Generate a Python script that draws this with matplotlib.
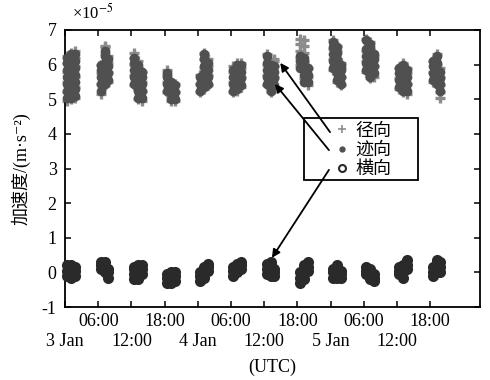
import matplotlib
matplotlib.use('Agg')
import matplotlib.pyplot as plt
from matplotlib.lines import Line2D
from matplotlib.patches import Rectangle

plt.rcParams['font.family'] = ['Liberation Serif', 'Noto Sans CJK SC', 'DejaVu Sans']
plt.rcParams['mathtext.fontset'] = 'stix'
plt.rcParams['axes.unicode_minus'] = False

# ---------------- data (units of 1e-5 m/s^2) ----------------
# start hour (from 3 Jan 00:00 UTC) of each observation arc
cluster_start_h = [0, 6, 12, 18, 24, 30, 36, 42, 48, 54, 60, 66]
# time offsets (h) of the three sample columns inside one arc
col_offsets_h = [0.45, 1.15, 1.85]

# radial (径向) values per arc, per column
radial = [
    [[4.95, 5.2, 5.5, 5.8, 6.05, 6.25], [5.0, 5.3, 5.6, 5.9, 6.15, 6.35], [5.05, 5.35, 5.65, 5.95, 6.2, 6.4]],
    [[5.15, 5.45, 5.75, 6.0], [5.4, 5.7, 6.0, 6.3, 6.5, 6.55], [5.5, 5.8, 6.05, 6.25]],
    [[5.4, 5.7, 6.0, 6.2, 6.35], [5.0, 5.3, 5.6, 5.9, 6.1], [4.95, 5.25, 5.5, 5.8]],
    [[5.2, 5.5, 5.7, 5.85], [4.95, 5.2, 5.45], [4.95, 5.2, 5.45]],
    [[5.2, 5.45, 5.7], [5.3, 5.6, 5.9, 6.15, 6.35], [5.4, 5.7, 5.95, 6.15]],
    [[5.2, 5.5, 5.8, 5.95], [5.25, 5.55, 5.85, 6.05], [5.35, 5.65, 5.9, 6.05]],
    [[5.4, 5.7, 6.0, 6.3], [5.2, 5.5, 5.8, 6.05], [5.35, 5.65, 5.95, 6.1, 6.15]],
    [[6.0, 6.2, 6.4, 6.6, 6.75], [5.6, 5.85, 6.1, 6.35, 6.55, 6.7], [5.4, 5.65, 5.9]],
    [[5.85, 6.15, 6.45, 6.7], [5.5, 5.8, 6.1, 6.4, 6.55], [5.4, 5.65, 5.9, 6.05]],
    [[5.8, 6.1, 6.4, 6.75], [5.6, 5.9, 6.2, 6.5, 6.65], [5.65, 5.95, 6.25]],
    [[5.3, 5.6, 5.9], [5.2, 5.5, 5.8, 6.05], [5.15, 5.45, 5.75, 5.9]],
    [[5.5, 5.8, 6.1], [5.4, 5.7, 6.0, 6.3], [5.05, 5.2, 5.4, 5.65, 5.9]],
]

# along-track (迹向) values per arc, per column
along = [
    [[5.05, 5.25, 5.45, 5.65, 5.85, 6.05, 6.2], [5.05, 5.25, 5.45, 5.7, 5.9, 6.1, 6.3], [5.1, 5.3, 5.5, 5.7, 5.9, 6.1, 6.3]],
    [[5.25, 5.45, 5.65, 5.85, 6.0], [5.45, 5.65, 5.85, 6.05, 6.25, 6.4], [5.55, 5.75, 5.95, 6.15]],
    [[5.45, 5.65, 5.85, 6.05, 6.2], [5.05, 5.25, 5.45, 5.65, 5.85, 6.0], [5.05, 5.25, 5.45, 5.65, 5.8]],
    [[5.25, 5.45, 5.65, 5.75], [5.0, 5.2, 5.4, 5.5], [5.0, 5.2, 5.4]],
    [[5.25, 5.45, 5.65], [5.35, 5.55, 5.75, 5.95, 6.15, 6.3], [5.45, 5.65, 5.85, 6.05]],
    [[5.25, 5.45, 5.65, 5.85], [5.3, 5.5, 5.7, 5.9, 6.0], [5.4, 5.6, 5.8, 6.0]],
    [[5.45, 5.65, 5.85, 6.05, 6.25], [5.25, 5.45, 5.65, 5.85, 6.0], [5.4, 5.6, 5.8, 5.95]],
    [[5.9, 6.1, 6.25], [5.5, 5.7, 5.9, 6.1, 6.2], [5.5, 5.7, 5.9]],
    [[5.9, 6.1, 6.3, 6.5, 6.65], [5.55, 5.75, 5.95, 6.15, 6.35, 6.5], [5.45, 5.65, 5.85, 6.0]],
    [[5.85, 6.05, 6.25, 6.45, 6.7], [5.65, 5.85, 6.05, 6.25, 6.45, 6.6], [5.75, 5.95, 6.15, 6.3]],
    [[5.35, 5.55, 5.75, 5.9], [5.25, 5.45, 5.65, 5.85, 6.0], [5.25, 5.45, 5.65, 5.85]],
    [[5.55, 5.75, 5.95, 6.1], [5.45, 5.65, 5.85, 6.05, 6.25], [5.25, 5.45, 5.6, 5.8]],
]

# cross-track (横向) values per arc, per column
cross = [
    [[-0.1, 0.05, 0.2], [-0.15, 0.0, 0.15, 0.2], [-0.1, 0.05, 0.15]],
    [[0.1, 0.2, 0.3], [0.0, 0.15, 0.3], [-0.15, 0.0, 0.1]],
    [[-0.2, -0.05, 0.1, 0.15], [-0.2, -0.05, 0.1, 0.2], [-0.05, 0.1, 0.2]],
    [[-0.3, -0.15, -0.05], [-0.3, -0.15, 0.0], [-0.25, -0.1, 0.0]],
    [[-0.25, -0.1, 0.0], [-0.15, 0.0, 0.15], [0.05, 0.15, 0.25]],
    [[-0.1, 0.05, 0.15], [0.0, 0.15, 0.25], [0.1, 0.2, 0.3]],
    [[-0.05, 0.1, 0.25], [-0.1, 0.05, 0.2, 0.3], [-0.1, 0.0, 0.1]],
    [[-0.3, -0.15, 0.0], [-0.2, -0.05, 0.1, 0.2], [0.05, 0.15, 0.3]],
    [[-0.15, 0.0, 0.1], [-0.15, 0.0, 0.15, 0.2], [-0.15, -0.05, 0.05]],
    [[-0.05, 0.05, 0.15], [-0.2, -0.05, 0.1], [-0.25, -0.15, -0.05]],
    [[-0.05, 0.05, 0.15], [-0.15, 0.0, 0.15, 0.2], [0.1, 0.2, 0.35]],
    [[-0.1, 0.0, 0.15], [0.0, 0.15, 0.3, 0.35], [0.0, 0.15, 0.3]],
]

series_labels = ['径向', '迹向', '横向']
# first-row ticks (06:00 / 18:00) and second-row ticks (dates / 12:00)
row1_hours = [6, 18, 30, 42, 54, 66]
row1_labels = ['06:00', '18:00', '06:00', '18:00', '06:00', '18:00']
row2_hours = [0, 12, 24, 36, 48, 60]
row2_labels = ['3 Jan', '12:00', '4 Jan', '12:00', '5 Jan', '12:00']
ytick_values = [-1, 0, 1, 2, 3, 4, 5, 6, 7]


def flatten(series):
    t, v = [], []
    for k, cols in enumerate(series):
        for j, col in enumerate(cols):
            for val in col:
                t.append(cluster_start_h[k] + col_offsets_h[j])
                v.append(val)
    return t, v


fig = plt.figure(figsize=(4.9, 3.8), dpi=100)
ax = fig.add_axes([65 / 490, 73 / 380, 415 / 490, 277 / 380])

c_rad = '#8c8c8c'
c_alo = '#505050'
c_crs = '#2a2a2a'

t, v = flatten(radial)
ax.plot(t, v, ls='none', marker='+', ms=7, mew=2.4, color=c_rad, clip_on=False, zorder=2)
t, v = flatten(along)
ax.plot(t, v, ls='none', marker='o', ms=7, mew=0, color=c_alo, clip_on=False, zorder=3)
t, v = flatten(cross)
ax.plot(t, v, ls='none', marker='o', ms=8, mew=0, color=c_crs, clip_on=False, zorder=3)

ax.set_xlim(0, 75)
ax.set_ylim(-1, 7)
ax.set_xticks(row1_hours)
ax.set_xticklabels(row1_labels)
ax.set_xticks(row2_hours, minor=True)
ax.set_xticklabels(row2_labels, minor=True)
ax.set_yticks(ytick_values)
ax.set_yticklabels([str(y) for y in ytick_values])
ax.tick_params(which='both', direction='in', top=True, right=True, length=4, width=1.1,
               labelsize=13, colors='black')
ax.tick_params(axis='x', which='major', pad=4)
ax.tick_params(axis='x', which='minor', pad=19)
ax.tick_params(axis='y', pad=6)
for sp in ax.spines.values():
    sp.set_linewidth(1.3)

ax.set_xlabel('(UTC)', fontsize=13, labelpad=6)
ax.set_ylabel('加速度/(m·s⁻²)', fontsize=13, labelpad=8)
ax.text(0.017, 1.04, r'×10$^{-5}$', transform=ax.transAxes, fontsize=12,
        va='baseline', ha='left')

# legend frame + entries
ax.add_patch(Rectangle((0.576, 0.458), 0.275, 0.224, transform=ax.transAxes,
                       facecolor='white', edgecolor='black', lw=1.3, zorder=5,
                       clip_on=False))
handles = [
    Line2D([], [], ls='none', marker='+', ms=6, mew=1.2, color=c_rad),
    Line2D([], [], ls='none', marker='.', ms=7, color=c_alo),
    Line2D([], [], ls='none', marker='o', ms=5, mfc='none', mec=c_crs, mew=1.5),
]
leg = ax.legend(handles, series_labels, loc='upper left', bbox_to_anchor=(0.651, 0.665),
                frameon=False, fontsize=13, handlelength=0.8, handletextpad=0.3,
                borderpad=0, labelspacing=0.12, borderaxespad=0)
leg.set_zorder(6)

arrow_kw = dict(arrowstyle='-|>', color='black', lw=1.3, mutation_scale=12,
                shrinkA=0, shrinkB=0)
arrows = [((47.9, 4.05), (38.9, 6.05)),
          ((47.7, 3.53), (37.95, 5.44)),
          ((47.7, 2.96), (37.4, 0.42))]
for tail, head in arrows:
    ax.annotate('', xy=head, xytext=tail, arrowprops=arrow_kw, zorder=7)

fig.savefig('out.png', dpi=100, facecolor='white')
